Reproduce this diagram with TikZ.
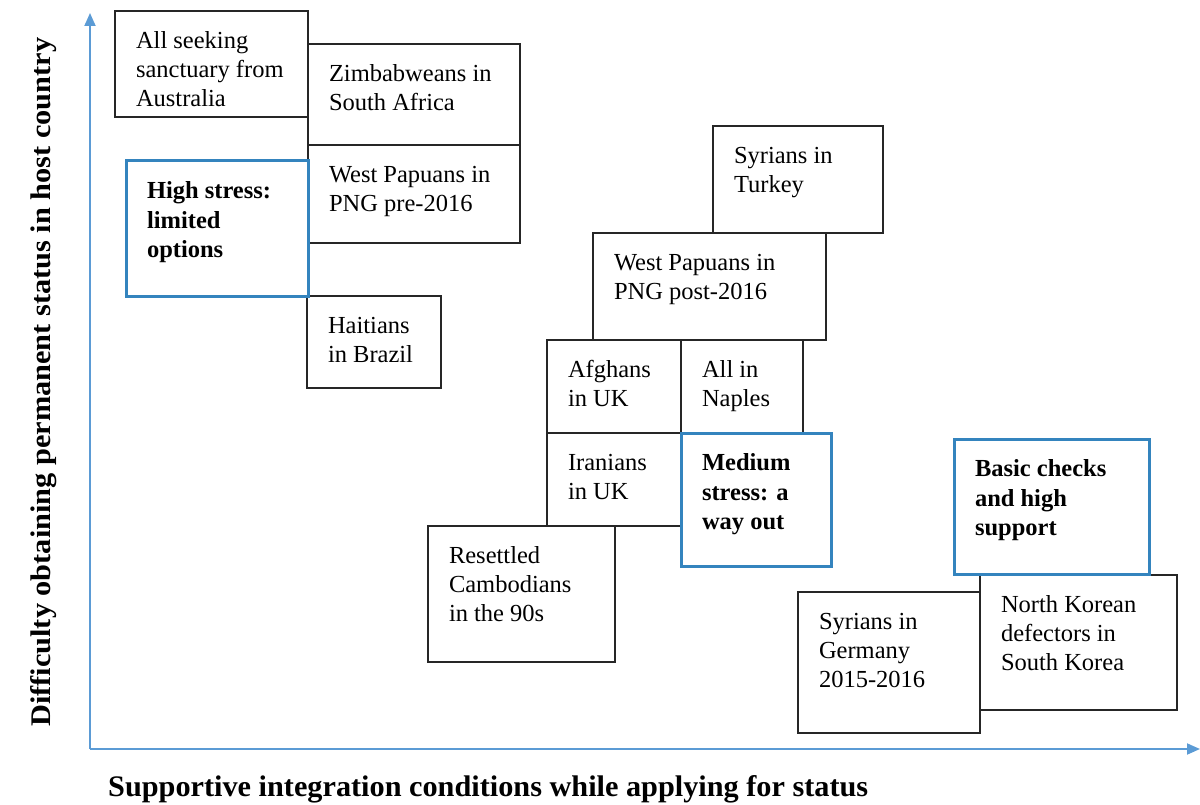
\documentclass[tikz,border=0pt]{standalone}
\usepackage{fontspec}
\setmainfont{Liberation Serif}
\usetikzlibrary{arrows.meta}
\definecolor{boxblue}{RGB}{52,132,190}
\definecolor{axisblue}{RGB}{91,155,213}
\newcommand\bx[7]{\node[#1, anchor=north west, inner sep=0pt, outer sep=0pt] (#2) at (#3,#4)
  {\parbox[t][\dimexpr #6pt-#4pt\relax][t]{\dimexpr #5pt-#3pt\relax}{\raggedright\leftskip=21pt\vspace*{17pt}\strut #7}};}
\begin{document}
\begin{tikzpicture}[x=1pt,y=-1pt,
  plainbox/.style={draw=black!85, line width=2pt, font=\fontsize{24.5}{29}\selectfont},
  keybox/.style={draw=boxblue, line width=3pt, font=\fontsize{24.5}{29.5}\selectfont\bfseries},
  axisline/.style={draw=axisblue, line width=1.8pt, -{Triangle[length=13pt,width=11pt]}},
  axislabel/.style={inner sep=0pt, font=\bfseries}]
\useasboundingbox (0,0) rectangle (1200,805);
% axes
\coordinate (O) at (90,749);
\coordinate (ytop) at (90,13);
\coordinate (xend) at (1200,749);
\draw[axisline] (O) -- (ytop);
\draw[axisline] (O) -- (xend);
% boxes
\bx{plainbox}{aus}{115}{11}{308}{117}{All seeking\\sanctuary from\\Australia}
\bx{plainbox}{zim}{308}{44}{520}{145}{Zimbabweans in\\South Africa}
\bx{plainbox}{wppre}{308}{145}{520}{243}{West Papuans in\\PNG pre-2016}
\bx{plainbox}{hai}{307}{296}{441}{388}{Haitians\\in Brazil}
\bx{plainbox}{syrtur}{713}{126}{883}{233}{Syrians in\\Turkey}
\bx{plainbox}{wppost}{593}{233}{826}{340}{West Papuans in\\PNG post-2016}
\bx{plainbox}{afg}{547}{340}{681}{433}{Afghans\\in UK}
\bx{plainbox}{nap}{681}{340}{803}{433}{All in\\Naples}
\bx{plainbox}{iran}{547}{433}{681}{526}{Iranians\\in UK}
\bx{plainbox}{camb}{428}{526}{615}{662}{Resettled\\Cambodians\\in the 90s}
\bx{plainbox}{syrger}{798}{592}{980}{733}{Syrians in\\Germany\\2015-2016}
\bx{plainbox}{nk}{980}{575}{1177}{710}{North Korean\\defectors in\\South Korea}
\bx{keybox}{high}{126}{161}{308}{296}{High stress:\\limited\\options}
\bx{keybox}{med}{681}{433}{831}{566}{Medium\\stress: a\\way out}
\bx{keybox}{basic}{954}{439}{1149}{574}{Basic checks\\and high\\support}
% axis labels
\node[axislabel, anchor=base west] (xlab) at (108,796)
  {\resizebox{760pt}{21pt}{Supportive integration conditions while applying for status}};
\node[axislabel, anchor=base west, rotate=90] (ylab) at (50,727)
  {\resizebox{689pt}{20pt}{Difficulty obtaining permanent status in host country}};
\end{tikzpicture}
\end{document}
